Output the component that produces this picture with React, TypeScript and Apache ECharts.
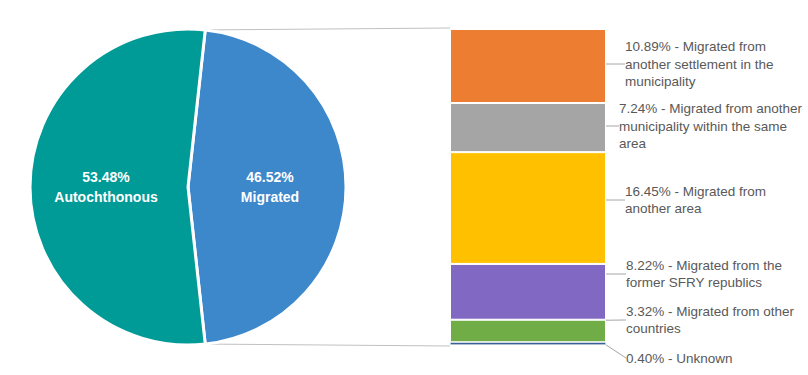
import React, { useEffect, useRef } from 'react';
import * as echarts from 'echarts';

const pieNames = ['Migrated', 'Autochthonous'];
const pieValues = [46.52, 53.48];
const pieColors = ['#3D87CB', '#009A97'];

const barNames = [
  'Migrated from\nanother settlement in the\nmunicipality',
  'Migrated from another\nmunicipality within the same\narea',
  'Migrated from\nanother area',
  'Migrated from the\nformer SFRY republics',
  'Migrated from other\ncountries',
  'Unknown',
];
const barValues = [10.89, 7.24, 16.45, 8.22, 3.32, 0.4];
const barColors = ['#ED7D31', '#A5A5A5', '#FFC000', '#8169C3', '#70AD47', '#2F5A93'];

// label placement (layout only)
const labelX = [625, 619, 625, 626, 626, 626];
const labelY = [64, 126, 200, 274, 320, 358];

const CX = 188;
const CY = 187;
const R = 158;
const BAR_LEFT = 450;
const BAR_WIDTH = 156;
const BAR_TOP = 29;
const BAR_HEIGHT = 316;

export default function App() {
  const ref = useRef<HTMLDivElement>(null);
  useEffect(() => {
    document.body.style.margin = '0';
    const chart = echarts.init(ref.current!, null, { renderer: 'svg' });
    const total = pieValues.reduce((a, b) => a + b, 0);
    const half = (pieValues[0] / total) * 180;
    const startAngle = half;
    const rad = (half * Math.PI) / 180;
    const px = CX + R * Math.cos(rad);
    const pyTop = CY - R * Math.sin(rad);
    const pyBot = CY + R * Math.sin(rad);
    const barTotal = barValues.reduce((a, b) => a + b, 0);

    const font = "'Liberation Sans', Arial, sans-serif";

    chart.setOption({
      animation: false,
      grid: { left: BAR_LEFT, top: BAR_TOP, width: BAR_WIDTH, height: BAR_HEIGHT },
      xAxis: { type: 'category', data: [''], show: false },
      yAxis: { type: 'value', min: 0, max: barTotal, inverse: true, show: false },
      graphic: [
        { type: 'line', shape: { x1: px, y1: pyTop, x2: BAR_LEFT, y2: BAR_TOP - 1 }, style: { stroke: '#C0C0C0', lineWidth: 1 }, z: 0 },
        { type: 'line', shape: { x1: px, y1: pyBot, x2: BAR_LEFT, y2: BAR_TOP + BAR_HEIGHT + 1 }, style: { stroke: '#C0C0C0', lineWidth: 1 }, z: 0 },
      ],
      series: [
        {
          type: 'pie',
          center: [CX, CY],
          radius: [0, R],
          startAngle,
          clockwise: true,
          itemStyle: { borderColor: '#fff', borderWidth: 3 },
          label: {
            position: 'inside',
            color: '#fff',
            fontWeight: 'bold',
            fontSize: 14,
            lineHeight: 20,
            fontFamily: font,
            formatter: (p: any) => `${p.value.toFixed(2)}%\n${p.name}`,
          },
          labelLine: { show: false },
          data: pieNames.map((n, i) => ({ name: n, value: pieValues[i], itemStyle: { color: pieColors[i] } })),
        },
        ...barNames.map((n, i) => ({
          type: 'bar',
          name: n,
          stack: 'm',
          barWidth: '100%',
          data: [barValues[i]],
          itemStyle: { color: barColors[i], borderColor: '#fff', borderWidth: i === barNames.length - 1 ? 0.6 : 1 },
          label: {
            show: true,
            position: 'right',
            color: '#595959',
            fontSize: 13.5,
            lineHeight: 17.7,
            fontFamily: font,
            formatter: () => `${barValues[i].toFixed(2)}% - ${n}`,
          },
          labelLine: { show: true, lineStyle: { color: '#A6A6A6', width: 1 } },
          labelLayout: () => ({ x: labelX[i], y: labelY[i], align: 'left', verticalAlign: 'middle' }),
        })),
      ],
    });
    return () => chart.dispose();
  }, []);
  return <div ref={ref} style={{ width: 808, height: 375 }} />;
}
